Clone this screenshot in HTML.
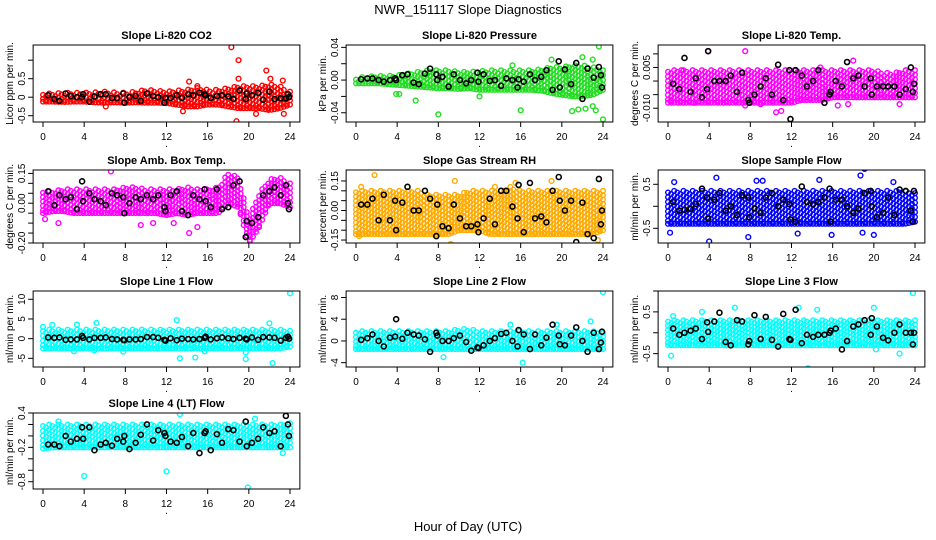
<!DOCTYPE html>
<html><head><meta charset="utf-8"><style>
html,body{margin:0;padding:0;background:#fff;}
svg{display:block;font-family:"Liberation Sans",sans-serif;}
</style></head><body>
<svg id="chart" width="936" height="540" viewBox="0 0 936 540">
<text x="468" y="14" text-anchor="middle" font-size="13">NWR_151117  Slope Diagnostics</text>
<text x="468" y="531" text-anchor="middle" font-size="13">Hour of Day (UTC)</text>
</svg>
<script>
const titles=["Slope Li-820 CO2","Slope Li-820 Pressure","Slope Li-820 Temp.","Slope Amb. Box Temp.","Slope Gas Stream RH","Slope Sample Flow","Slope Line 1 Flow","Slope Line 2 Flow","Slope Line 3 Flow","Slope Line 4 (LT) Flow"];
const yTitles=["Licor ppm per min.","kPa per min.","degrees C per min.","degrees C per min.","percent per min.","ml/min per min.","ml/min per min.","ml/min per min.","ml/min per min.","ml/min per min."];
const colors=["#ff0000","#22dd22","#ff00ff","#ff00ff","#ffaa00","#0000ff","#00ffff","#00ffff","#00ffff","#00ffff"];
const yRanges=[[-0.67,1.41],[-0.0513,0.0429],[-0.01507,0.01326],[-0.2,0.167],[-0.165,0.2056],[-0.834,0.825],[-7.2,12.1],[-4.8,9.2],[-0.82,1.0],[-0.927,0.4]];
const yTicks=[[-0.5,0,0.5,1.0],[-0.04,-0.02,0,0.02,0.04],[-0.01,-0.005,0,0.005,0.01],[-0.2,-0.15,-0.1,-0.05,0,0.05,0.1,0.15],[-0.15,-0.1,-0.05,0,0.05,0.1,0.15],[-0.5,0,0.5],[-5,0,5,10],[-4,0,4,8],[-0.5,0,0.5,1.0],[-0.8,-0.6,-0.4,-0.2,0,0.2,0.4]];
const yTickLabels=[["-0.5","0","0.5",""],["-0.04","","0.00","","0.04"],["-0.010","","","0.005",""],["-0.20","","","","0.00","","","0.15"],["-0.15","","","0.00","","","0.15"],["-0.5","","0.5"],["-5","0","5","10"],["-4","0","4","8"],["-0.5","","0.5",""],["-0.8","","","-0.2","","","0.4"]];
const xTicks=[0,4,8,12,16,20,24];
const bandHours=[0,1,2,3,4,5,6,7,8,9,10,11,12,13,14,15,16,17,18,19,20,21,22,23,24];
const bandLo=[
[-0.12,-0.12,-0.13,-0.12,-0.12,-0.14,-0.15,-0.14,-0.15,-0.14,-0.15,-0.15,-0.16,-0.2,-0.25,-0.25,-0.2,-0.2,-0.25,-0.3,-0.3,-0.3,-0.35,-0.3,-0.2],
[-0.004,-0.004,-0.004,-0.005,-0.006,-0.007,-0.008,-0.009,-0.010,-0.010,-0.011,-0.010,-0.012,-0.012,-0.012,-0.012,-0.012,-0.012,-0.013,-0.016,-0.018,-0.02,-0.02,-0.018,-0.012],
[-0.008,-0.008,-0.008,-0.008,-0.008,-0.008,-0.008,-0.008,-0.008,-0.008,-0.008,-0.008,-0.008,-0.007,-0.007,-0.007,-0.006,-0.006,-0.006,-0.006,-0.006,-0.006,-0.006,-0.006,-0.006],
[-0.05,-0.04,-0.04,-0.05,-0.05,-0.05,-0.05,-0.05,-0.05,-0.05,-0.05,-0.05,-0.06,-0.05,-0.06,-0.05,-0.05,-0.05,0.0,-0.02,-0.2,-0.12,0.0,0.0,-0.02],
[-0.12,-0.12,-0.12,-0.12,-0.12,-0.12,-0.12,-0.12,-0.12,-0.12,-0.1,-0.1,-0.1,-0.12,-0.12,-0.12,-0.12,-0.12,-0.12,-0.12,-0.12,-0.12,-0.12,-0.12,-0.1],
[-0.4,-0.4,-0.4,-0.4,-0.4,-0.4,-0.4,-0.4,-0.4,-0.4,-0.4,-0.4,-0.4,-0.4,-0.4,-0.4,-0.4,-0.4,-0.4,-0.4,-0.4,-0.4,-0.4,-0.4,-0.35],
[-2.5,-2.5,-2.5,-2.5,-2.5,-2.5,-2.5,-2.5,-2.5,-2.5,-2.5,-2.5,-2.5,-2.5,-2.5,-2.5,-2.5,-2.5,-2.5,-2.5,-2.5,-2.5,-2.5,-2.5,-2],
[-1.5,-1.5,-1.5,-1.5,-1.5,-1.5,-1.5,-1.5,-1.5,-1.5,-1.5,-1.5,-1.5,-1.5,-1.5,-1.5,-1.5,-1.5,-1.5,-1.5,-1.5,-1.5,-1.5,-1.5,-1.5],
[-0.3,-0.3,-0.3,-0.3,-0.3,-0.3,-0.3,-0.3,-0.3,-0.3,-0.3,-0.3,-0.3,-0.3,-0.3,-0.3,-0.3,-0.3,-0.3,-0.3,-0.3,-0.3,-0.3,-0.3,-0.3],
[-0.22,-0.2,-0.2,-0.2,-0.2,-0.2,-0.2,-0.2,-0.2,-0.2,-0.2,-0.2,-0.2,-0.2,-0.2,-0.2,-0.2,-0.2,-0.2,-0.2,-0.2,-0.2,-0.2,-0.2,-0.2]];
const bandHi=[
[0.1,0.1,0.12,0.12,0.12,0.13,0.15,0.13,0.12,0.15,0.2,0.18,0.15,0.18,0.2,0.25,0.2,0.2,0.25,0.3,0.3,0.3,0.35,0.3,0.15],
[0.003,0.004,0.005,0.005,0.006,0.008,0.01,0.012,0.012,0.012,0.01,0.01,0.011,0.012,0.012,0.012,0.012,0.012,0.013,0.016,0.016,0.018,0.018,0.016,0.012],
[0.004,0.004,0.004,0.004,0.004,0.004,0.004,0.004,0.004,0.004,0.004,0.004,0.004,0.004,0.004,0.004,0.004,0.004,0.004,0.004,0.004,0.003,0.003,0.004,0.004],
[0.06,0.06,0.07,0.07,0.07,0.07,0.07,0.07,0.08,0.08,0.07,0.07,0.07,0.07,0.08,0.07,0.07,0.08,0.15,0.13,-0.08,0.05,0.12,0.13,0.1],
[0.1,0.1,0.1,0.1,0.1,0.1,0.1,0.08,0.08,0.08,0.08,0.1,0.1,0.1,0.1,0.12,0.1,0.1,0.1,0.1,0.1,0.1,0.1,0.1,0.1],
[0.35,0.35,0.35,0.35,0.35,0.35,0.35,0.35,0.35,0.35,0.35,0.35,0.35,0.35,0.35,0.35,0.35,0.35,0.35,0.35,0.35,0.35,0.35,0.35,0.3],
[2.3,2.3,2.3,2.3,2.3,2.3,2.3,2.3,2.3,2.3,2.3,2.3,2.3,2.3,2.3,2.3,2.3,2.3,2.3,2.3,2.3,2.3,2.3,2.3,2],
[1.8,1.8,1.8,1.8,1.8,1.8,1.8,1.8,1.8,1.8,2.2,2.2,1.8,1.8,1.8,1.8,1.8,1.8,1.8,1.8,1.8,1.8,1.8,1.8,1.5],
[0.3,0.3,0.3,0.3,0.3,0.3,0.3,0.3,0.3,0.3,0.3,0.3,0.3,0.3,0.3,0.3,0.3,0.3,0.3,0.3,0.3,0.3,0.3,0.3,0.3],
[0.2,0.2,0.2,0.2,0.2,0.2,0.2,0.2,0.2,0.2,0.2,0.2,0.2,0.2,0.2,0.2,0.2,0.2,0.2,0.2,0.2,0.2,0.2,0.2,0.22]];
const outHours=[
[18.3,19,14.2,21.7,22.1,23.3,18.8,13.6,20.7,23.4,19,6.1,15],
[3.9,4.2,5.8,8,12,16,19,21,21.6,22.3,23,23.3,23.6,24,22,23,15.2],
[1.3,3.9,7.5,10.5,11,16.5,7.5,9,0.3,2.5,17.5,22.5,14.8,18],
[6.6,1.5,0.2,9.5,10.7,14.2,15,20.4,12.7],
[1.8,0.3,8.5,9.2,21.5,23.5,15.5,13.5,9.6,0.5,19],
[0.2,0.6,4,4.7,7.8,8.6,9.2,14.7,19.1,18.7,21.9,20,18.9,12.6,15.9],
[0,0.9,3.3,5.2,13,13.3,14.8,19.7,22.3,24,22,19.7,7.8,3,5,15.7],
[8.5,16.2,24,22.8,19.5,0.3,15],
[0.3,0.5,3.3,6.5,13.6,14.5,20,23.8,12.7,9,20.2,22.5],
[4,12,13.3,19.9,20.6,1.5,23.3]];
const outValues=[
[1.35,1.0,0.42,0.72,0.5,0.45,-0.65,-0.38,-0.45,-0.45,0.5,-0.25,0.3],
[-0.017,-0.017,-0.025,-0.042,-0.02,-0.037,0.025,-0.038,-0.036,-0.035,-0.032,-0.037,0.041,-0.048,0.028,0.025,0.018],
[0.004,0.011,0.011,-0.0115,-0.011,-0.009,-0.009,-0.0085,-0.007,-0.008,-0.0085,-0.0085,0.005,0.0075],
[0.16,-0.1,-0.08,-0.11,-0.1,-0.15,-0.12,-0.22,-0.1],
[0.18,-0.13,-0.19,-0.17,-0.18,-0.15,0.14,0.12,0.15,0.12,0.15],
[-0.6,0.55,-0.8,0.65,-0.7,0.58,0.58,0.6,0.85,0.7,0.55,-0.65,-0.6,-0.62,-0.65],
[3,3.5,3.6,4,4.7,-5,-4.8,-5.2,-6.2,11.5,3.9,-3.5,-3.3,-3.2,-3,-3.2],
[-3,-4,9,3.6,3,-1.5,3],
[-0.55,0.4,0.5,0.6,-0.85,0.55,0.6,0.95,0.6,-0.3,-0.4,-0.5],
[-0.7,-0.62,0.38,-0.9,0.3,0.25,-0.3]];
const blackHours=[0.5,1.1,1.6,2.2,2.7,3.3,3.8,3.9,4.5,5.0,5.6,6.1,6.7,7.2,7.8,7.9,8.4,9.0,9.5,10.1,10.7,11.2,11.8,11.9,12.4,13.0,13.5,14.1,14.6,15.2,15.7,15.8,16.3,16.9,17.4,18.0,18.5,19.1,19.7,19.8,20.3,20.9,21.4,22.0,22.5,23.1,23.6,23.8,23.9];
const blackValues=[
[0.05,-0.05,-0.1,0.1,0.03,0.0,0.0,0.08,-0.12,0.02,0.08,0.08,-0.02,-0.02,0.1,-0.15,0.0,0.03,-0.1,0.1,0.03,0.0,-0.15,-0.02,-0.02,0.05,-0.02,0.08,0.05,0.12,0.08,0.05,-0.02,0.03,0.05,0.02,-0.05,0.18,-0.05,0.1,0.05,0.12,-0.07,0.15,-0.05,-0.03,-0.03,0.08,0.0],
[0.001,0.002,0.002,0.0,-0.002,0.0,0.002,0.0,0.006,0.007,-0.003,-0.005,0.008,0.014,0.007,0.0,0.004,-0.008,0.007,0.0,-0.004,0.0,0.009,-0.002,0.007,-0.001,0.0,-0.007,0.002,0.0,-0.009,0.001,-0.002,0.007,0.0,0.004,0.012,-0.012,0.023,-0.009,0.013,-0.005,0.021,-0.023,0.014,0.003,0.016,0.006,-0.009],
[-0.001,-0.003,0.0085,-0.004,0.001,-0.006,-0.003,0.011,0.0,0.0,0.0,0.002,-0.004,0.003,-0.007,-0.008,-0.005,-0.002,0.001,-0.005,0.006,-0.007,0.004,-0.014,0.004,0.002,-0.002,0.0,0.004,-0.008,-0.005,-0.004,0.0,-0.002,0.007,0.001,0.002,-0.002,0.001,-0.005,-0.002,-0.002,-0.002,-0.002,-0.005,-0.003,0.005,-0.004,-0.001],
[0.06,-0.01,0.04,0.02,0.03,-0.03,0.11,0.01,0.05,0.02,0.01,-0.01,0.05,0.04,0.03,-0.05,0.0,0.03,0.02,0.04,0.02,0.04,-0.02,-0.04,0.04,0.06,-0.04,-0.06,0.04,0.02,0.07,0.01,-0.02,0.07,-0.03,-0.02,0.09,0.11,-0.17,-0.09,-0.1,-0.07,0.04,0.06,0.08,0.04,0.09,0.0,-0.03],
[0.03,0.03,0.06,-0.05,0.08,-0.05,0.05,-0.1,0.04,0.12,0.0,0.0,0.1,0.06,-0.13,0.03,-0.08,-0.09,0.03,-0.04,-0.08,-0.08,-0.07,-0.11,-0.04,0.06,-0.07,0.1,0.1,0.02,-0.04,0.13,-0.11,0.14,-0.04,-0.03,-0.06,0.1,0.17,0.05,0.0,0.05,-0.16,0.04,-0.12,-0.14,0.16,-0.07,0.0],
[0.1,-0.1,-0.08,-0.06,0.05,0.4,0.2,-0.28,0.15,0.3,-0.1,0.0,-0.2,0.25,0.2,-0.25,-0.05,-0.15,0.2,0.3,0.0,0.15,0.05,-0.3,-0.35,0.45,0.1,0.05,0.1,0.2,0.4,-0.35,0.15,0.15,0.0,-0.15,-0.05,0.3,0.35,0.0,-0.25,-0.15,0.2,-0.2,0.38,0.35,-0.1,-0.35,0.35],
[0.3,0.2,0.3,-0.3,-0.2,-0.2,0.7,0.2,-0.2,0.2,0.2,0.3,-0.1,-0.2,-0.3,-0.4,-0.2,-0.2,-0.1,0.4,0.4,0.2,-0.3,-0.5,0.1,-0.4,0.0,-0.1,-0.2,-0.1,0.2,0.5,-0.2,0.1,0.3,0.1,-0.1,0.2,0.0,-0.2,0.3,-0.3,0.4,0.3,0.2,-0.5,0.2,0.5,0.0],
[0.2,0.5,1.2,0.0,-1.0,0.6,0.8,4.0,0.4,1.5,1.2,1.0,0.3,-2.0,1.5,1.0,0.0,0.0,0.5,1.0,-0.2,-1.8,-1.2,-1.3,-0.8,0.0,0.5,1.3,1.5,0.0,-1.0,2.0,1.2,-1.5,1.2,-0.8,0.6,3.0,1.0,-0.6,-0.8,1.0,2.5,0.0,-2.0,1.5,-1.5,-0.3,1.7],
[0.1,-0.05,0.0,0.05,0.1,-0.15,0.25,0.02,0.27,0.48,-0.22,-0.3,0.3,0.27,-0.28,-0.2,0.42,-0.15,0.38,-0.17,-0.33,0.45,-0.15,-0.17,0.55,-0.25,-0.05,-0.1,-0.05,-0.05,0.0,0.05,0.1,-0.4,-0.2,0.15,0.2,0.3,-0.05,0.35,0.15,-0.12,-0.18,0.0,0.2,0.0,0.0,-0.28,0.0],
[-0.15,-0.15,-0.18,0.0,-0.1,-0.05,0.15,-0.05,0.15,-0.25,-0.15,-0.12,-0.17,-0.05,-0.1,0.0,-0.23,-0.12,0.02,0.2,-0.08,0.1,0.05,0.0,-0.1,-0.12,-0.02,-0.18,0.05,-0.3,0.05,0.08,-0.25,0.03,-0.12,0.12,0.1,-0.1,0.25,-0.18,-0.12,-0.05,0.15,0.05,0.08,-0.18,0.35,0.2,0.0]];

const NS="http://www.w3.org/2000/svg";
const svg=document.getElementById('chart');
const colX0=[43,356,668];
const rowBox=[[45,122],[170,243],[291,367],[413,489]];
const pxPerHour=247/24;
function mk(tag,attrs,parent){const e=document.createElementNS(NS,tag);for(const k in attrs)e.setAttribute(k,attrs[k]);(parent||svg).appendChild(e);return e;}
function interp(arr,h){const i=Math.max(0,Math.min(23,Math.floor(h)));const t=h-i;return arr[i]*(1-t)+arr[i+1]*t;}

for(let p=0;p<10;p++){
  const col=p%3,row=Math.floor(p/3);
  const x0=colX0[col];
  const xs=h=>x0+h*pxPerHour;
  const [top,bot]=rowBox[row];
  const [ymin,ymax]=yRanges[p];
  const ys=v=>bot-(v-ymin)/(ymax-ymin)*(bot-top);
  const left=xs(-0.96),right=xs(24.96);
  const g=mk('g',{});
  
  
  const clipId='clip'+p;
  const cp=mk('clipPath',{id:clipId},g);
  mk('rect',{x:left,y:top,width:right-left,height:bot-top},cp);
  const pts=mk('g',{'clip-path':'url(#'+clipId+')'},g);
  
  
  // cloud drawn from band arrays, sparse mesh of rings
  let idx=0;
  for(let h=0;h<=24.001;h+=0.3){
    idx++;
    const lo=interp(bandLo[p],h),hi=interp(bandHi[p],h);
    const yl=ys(lo),yh=ys(hi);
    const n=Math.max(1,Math.round((yl-yh)/4.5));
    const off=(idx%3)/3;
    for(let k=0;k<=n;k++){
      const f=Math.min(1,(k+off)/n);
      const c=mk('circle',{cx:xs(h),cy:yh+(yl-yh)*f,r:2.3,fill:'none',stroke:colors[p],'stroke-width':1.4},pts);
      
      
    }
  }
  outHours[p].forEach((h,i)=>{
    const c=mk('circle',{cx:xs(h),cy:ys(outValues[p][i]),r:2.4,fill:'none',stroke:colors[p],'stroke-width':1.4},pts);
    
    
  });
  blackHours.forEach((h,i)=>{
    const c=mk('circle',{cx:xs(h),cy:ys(blackValues[p][i]),r:2.5,fill:'none',stroke:'#000','stroke-width':1.6},pts);
    
    
  });
  const box=mk('rect',{x:left,y:top,width:right-left,height:bot-top,fill:'none',stroke:'#000','stroke-width':1},g);
  
  
  const t=mk('text',{x:(left+right)/2,y:top-6,'text-anchor':'middle','font-size':11,'font-weight':'bold'},g);
  t.textContent=titles[p];
  
  
  xTicks.forEach(v=>{
    mk('line',{x1:xs(v),x2:xs(v),y1:bot,y2:bot+5,stroke:'#000'},g);
    const tl=mk('text',{x:xs(v),y:bot+18,'text-anchor':'middle','font-size':10},g);
    tl.textContent=v;
    
    
  });
  const dot=mk('text',{x:xs(12),y:bot+25,'text-anchor':'middle','font-size':10},g);
  dot.textContent='.';
  
  
  yTicks[p].forEach((v,i)=>{
    const y=ys(v);
    mk('line',{x1:left-5,x2:left,y1:y,y2:y,stroke:'#000'},g);
    if(yTickLabels[p][i]){
      const tl=mk('text',{x:0,y:0,'text-anchor':'middle','font-size':10,transform:`translate(${left-8},${y}) rotate(-90)`},g);
      tl.textContent=yTickLabels[p][i];
      
      
    }
  });
  const yl=mk('text',{x:0,y:0,'text-anchor':'middle','font-size':10,transform:`translate(${left-20},${(top+bot)/2}) rotate(-90)`},g);
  yl.textContent=yTitles[p];
  
  
}
</script>
</body></html>
